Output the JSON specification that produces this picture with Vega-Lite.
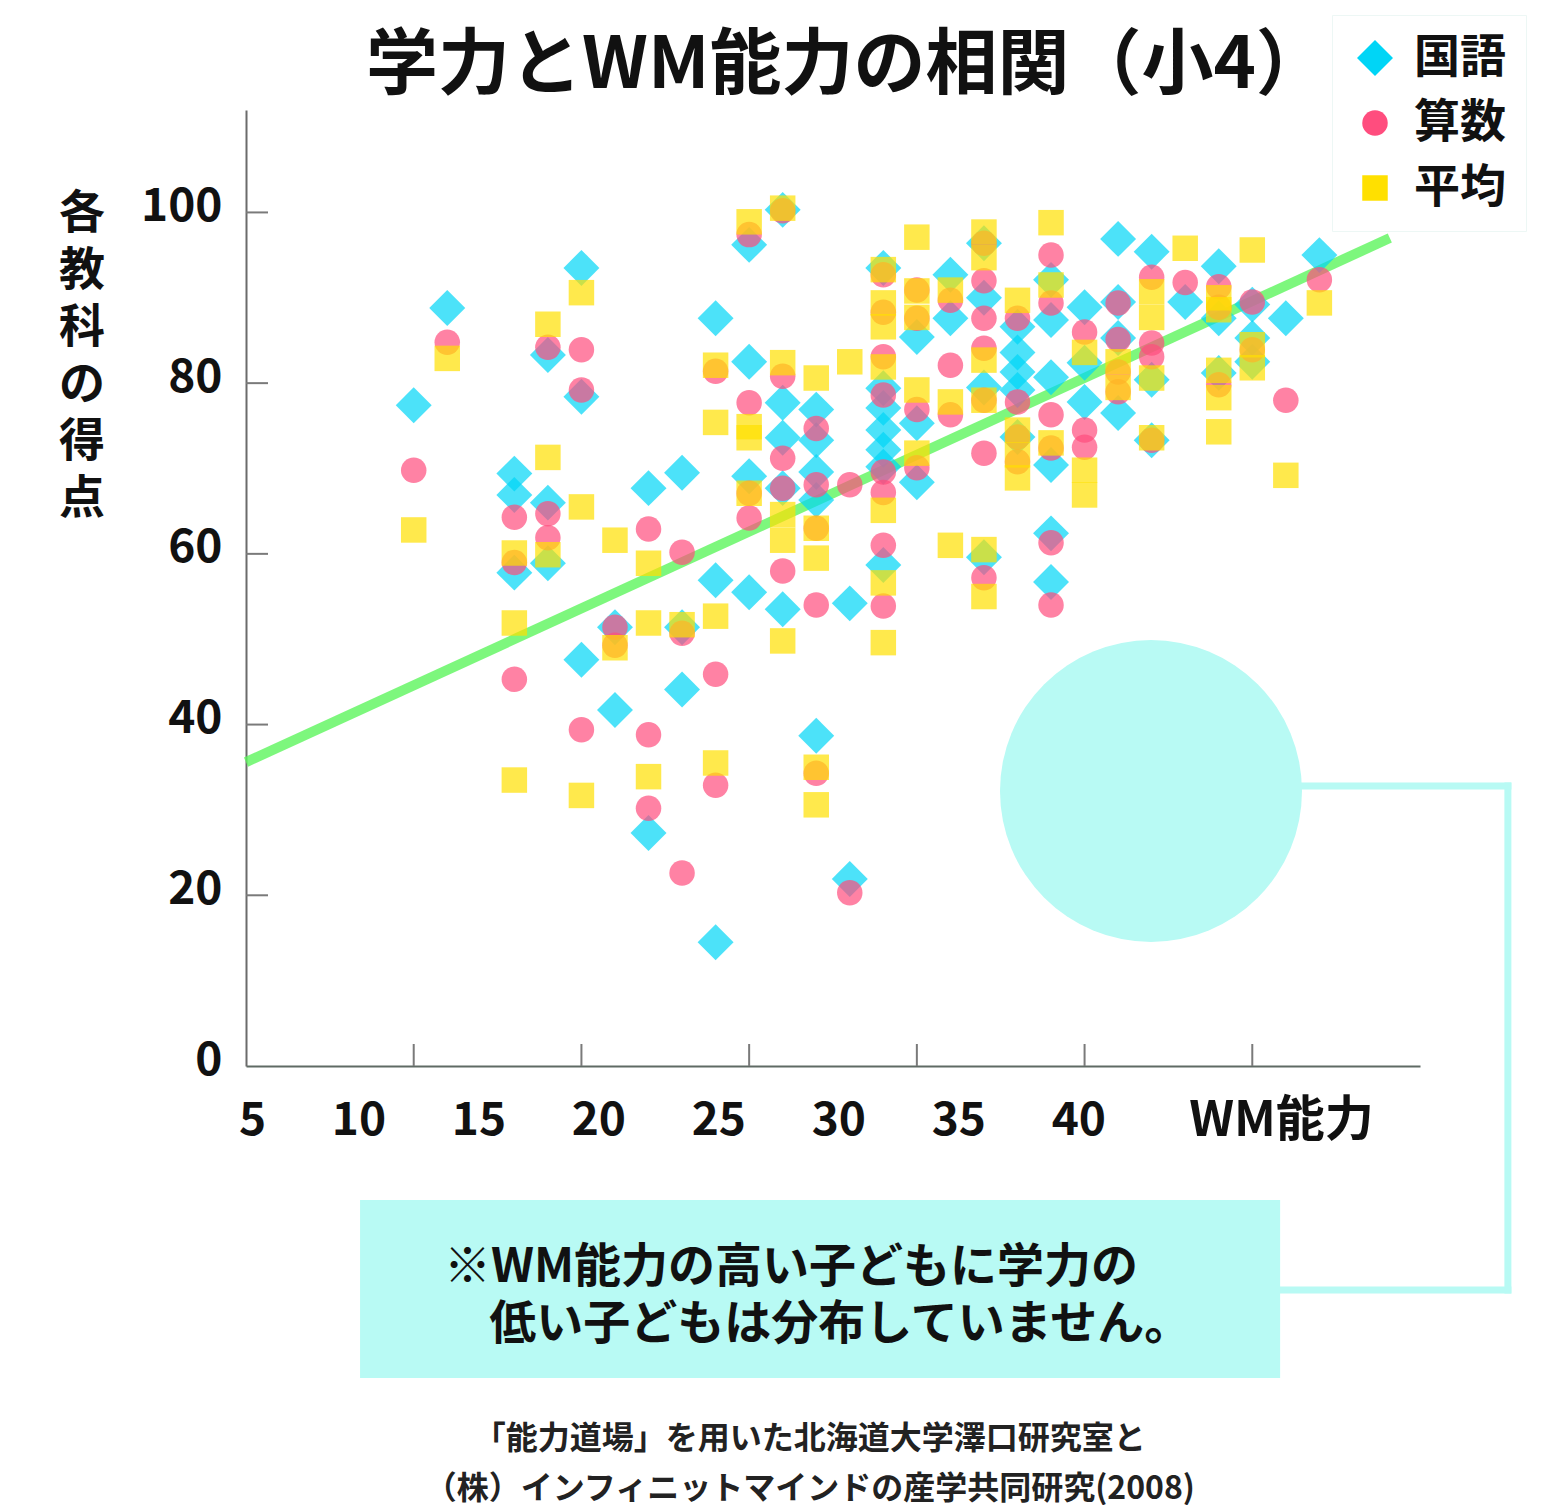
{
  "$schema": "https://vega.github.io/schema/vega-lite/v6.json",
  "width": 1174,
  "height": 956,
  "autosize": {"type": "none"},
  "padding": {"left": 246, "top": 110, "right": 125, "bottom": 439},
  "background": "white",
  "config": {
    "view": {"stroke": null},
    "font": "Noto Sans CJK JP"
  },
  "data": {"values": [{}]},
  "resolve": {"scale": {"x": "independent"}, "axis": {"x": "independent"}},
  "layer": [
    {
      "mark": {"type": "circle", "size": 91200, "color": "#B8FAF4", "opacity": 1},
      "encoding": {
        "x": {"datum": 26.98, "type": "quantitative", "scale": {"domain": [0, 35], "nice": false, "zero": false}, "axis": null},
        "y": {
          "datum": 32.22,
          "type": "quantitative",
          "scale": {"domain": [0, 112], "nice": false, "zero": false},
          "axis": {
            "orient": "left",
            "values": [0, 20, 40, 60, 80, 100],
            "grid": false,
            "ticks": false,
            "domainColor": "#6b6b6b",
            "domainWidth": 2,
            "labelPadding": 24,
            "labelOffset": -6,
            "labelFontSize": 46,
            "labelFontWeight": "bold",
            "labelColor": "#111111",
            "title": null
          }
        }
      }
    },
    {
      "mark": {"type": "rule", "color": "#B8FAF4", "strokeWidth": 7, "strokeCap": "square"},
      "encoding": {
        "x": {"datum": 27, "type": "quantitative", "scale": {"domain": [0, 35], "nice": false, "zero": false}, "axis": null},
        "x2": {"datum": 37.62},
        "y": {"datum": 32.8, "type": "quantitative"}
      }
    },
    {
      "mark": {"type": "rule", "color": "#B8FAF4", "strokeWidth": 7, "strokeCap": "square"},
      "encoding": {
        "x": {"datum": 37.62, "type": "quantitative", "scale": {"domain": [0, 35], "nice": false, "zero": false}, "axis": null},
        "y": {"datum": 32.8, "type": "quantitative"},
        "y2": {"datum": -26.24}
      }
    },
    {
      "mark": {"type": "rule", "color": "#B8FAF4", "strokeWidth": 7, "strokeCap": "square"},
      "encoding": {
        "x": {"datum": 30.83, "type": "quantitative", "scale": {"domain": [0, 35], "nice": false, "zero": false}, "axis": null},
        "x2": {"datum": 37.62},
        "y": {"datum": -26.24, "type": "quantitative"}
      }
    },
    {
      "mark": {"type": "rect", "color": "#B8FAF4"},
      "encoding": {
        "x": {"datum": 3.4, "type": "quantitative", "scale": {"domain": [0, 35], "nice": false, "zero": false}, "axis": null},
        "x2": {"datum": 30.83},
        "y": {"datum": -15.7, "type": "quantitative"},
        "y2": {"datum": -36.55}
      }
    },
    {
      "mark": {
        "type": "text",
        "text": "※WM能力の高い子どもに学力の",
        "align": "left",
        "baseline": "middle",
        "fontSize": 47,
        "fontWeight": "bold",
        "color": "#111111"
      },
      "encoding": {
        "x": {"datum": 5.9, "type": "quantitative", "scale": {"domain": [0, 35], "nice": false, "zero": false}, "axis": null},
        "y": {"datum": -23.72, "type": "quantitative"}
      }
    },
    {
      "mark": {
        "type": "text",
        "text": "低い子どもは分布していません。",
        "align": "left",
        "baseline": "middle",
        "fontSize": 47,
        "fontWeight": "bold",
        "color": "#111111"
      },
      "encoding": {
        "x": {"datum": 7.25, "type": "quantitative", "scale": {"domain": [0, 35], "nice": false, "zero": false}, "axis": null},
        "y": {"datum": -30.4, "type": "quantitative"}
      }
    },
    {
      "mark": {
        "type": "text",
        "text": "「能力道場」を用いた北海道大学澤口研究室と\n（株）インフィニットマインドの産学共同研究(2008)",
        "lineBreak": "\n",
        "lineHeight": 50,
        "align": "center",
        "baseline": "middle",
        "fontSize": 32,
        "fontWeight": "bold",
        "color": "#222222"
      },
      "encoding": {
        "x": {"datum": 16.81, "type": "quantitative", "scale": {"domain": [0, 35], "nice": false, "zero": false}, "axis": null},
        "y": {"datum": -43.7, "type": "quantitative"}
      }
    },
    {
      "mark": {
        "type": "text",
        "text": "学力とWM能力の相関（小4）",
        "align": "left",
        "baseline": "middle",
        "fontSize": 72,
        "fontWeight": "bold",
        "color": "#111111"
      },
      "encoding": {
        "x": {"datum": 3.58, "type": "quantitative", "scale": {"domain": [0, 35], "nice": false, "zero": false}, "axis": null},
        "y": {"datum": 117.2, "type": "quantitative"}
      }
    },
    {
      "mark": {
        "type": "text",
        "text": "各\n教\n科\nの\n得\n点",
        "lineBreak": "\n",
        "lineHeight": 57,
        "align": "center",
        "baseline": "middle",
        "fontSize": 46,
        "fontWeight": "bold",
        "color": "#111111"
      },
      "encoding": {
        "x": {"datum": -4.89, "type": "quantitative", "scale": {"domain": [0, 35], "nice": false, "zero": false}, "axis": null},
        "y": {"datum": 99.87, "type": "quantitative"}
      }
    },
    {
      "data": {"values": [{"wm": 0, "score": 35.6}, {"wm": 34.1, "score": 97.0}]},
      "mark": {"type": "line", "color": "#5CF55C", "strokeWidth": 10, "opacity": 0.8, "strokeCap": "butt"},
      "encoding": {
        "x": {"field": "wm", "type": "quantitative", "scale": {"domain": [0, 35], "nice": false, "zero": false}, "axis": null},
        "y": {"field": "score", "type": "quantitative"}
      }
    },
    {
      "data": {"values": [{"tick": 5}, {"tick": 10}, {"tick": 15}, {"tick": 20}, {"tick": 25}, {"tick": 30}]},
      "mark": {"type": "rule", "color": "#7a7a7a", "strokeWidth": 2},
      "encoding": {
        "x": {"field": "tick", "type": "quantitative", "scale": {"domain": [0, 35], "nice": false, "zero": false}, "axis": null},
        "y": {"datum": 0, "type": "quantitative"},
        "y2": {"datum": 2.58}
      }
    },
    {
      "data": {"values": [{"tick": 20}, {"tick": 40}, {"tick": 60}, {"tick": 80}, {"tick": 100}]},
      "mark": {"type": "rule", "color": "#7a7a7a", "strokeWidth": 2},
      "encoding": {
        "x": {"datum": 0, "type": "quantitative", "scale": {"domain": [0, 35], "nice": false, "zero": false}, "axis": null},
        "x2": {"datum": 0.656},
        "y": {"field": "tick", "type": "quantitative"}
      }
    },
    {
      "data": {
        "values": [
          {"wm": 5, "subject": "国語", "score": 77.4},
          {"wm": 6, "subject": "国語", "score": 88.8},
          {"wm": 8, "subject": "国語", "score": 69.4},
          {"wm": 8, "subject": "国語", "score": 66.9},
          {"wm": 8, "subject": "国語", "score": 57.8},
          {"wm": 9, "subject": "国語", "score": 83.3},
          {"wm": 9, "subject": "国語", "score": 66.0},
          {"wm": 9, "subject": "国語", "score": 58.9},
          {"wm": 10, "subject": "国語", "score": 93.5},
          {"wm": 10, "subject": "国語", "score": 78.4},
          {"wm": 10, "subject": "国語", "score": 47.6},
          {"wm": 11, "subject": "国語", "score": 51.4},
          {"wm": 11, "subject": "国語", "score": 41.7},
          {"wm": 12, "subject": "国語", "score": 67.7},
          {"wm": 12, "subject": "国語", "score": 27.3},
          {"wm": 13, "subject": "国語", "score": 69.5},
          {"wm": 13, "subject": "国語", "score": 51.4},
          {"wm": 13, "subject": "国語", "score": 44.1},
          {"wm": 14, "subject": "国語", "score": 87.6},
          {"wm": 14, "subject": "国語", "score": 56.9},
          {"wm": 14, "subject": "国語", "score": 14.5},
          {"wm": 15, "subject": "国語", "score": 96.2},
          {"wm": 15, "subject": "国語", "score": 82.5},
          {"wm": 15, "subject": "国語", "score": 69.1},
          {"wm": 15, "subject": "国語", "score": 55.5},
          {"wm": 16, "subject": "国語", "score": 100.3},
          {"wm": 16, "subject": "国語", "score": 77.7},
          {"wm": 16, "subject": "国語", "score": 73.6},
          {"wm": 16, "subject": "国語", "score": 67.7},
          {"wm": 16, "subject": "国語", "score": 53.5},
          {"wm": 17, "subject": "国語", "score": 76.9},
          {"wm": 17, "subject": "国語", "score": 73.3},
          {"wm": 17, "subject": "国語", "score": 69.6},
          {"wm": 17, "subject": "国語", "score": 66.3},
          {"wm": 17, "subject": "国語", "score": 38.7},
          {"wm": 18, "subject": "国語", "score": 54.2},
          {"wm": 18, "subject": "国語", "score": 21.9},
          {"wm": 19, "subject": "国語", "score": 93.5},
          {"wm": 19, "subject": "国語", "score": 79.4},
          {"wm": 19, "subject": "国語", "score": 77.1},
          {"wm": 19, "subject": "国語", "score": 74.5},
          {"wm": 19, "subject": "国語", "score": 72.2},
          {"wm": 19, "subject": "国語", "score": 70.2},
          {"wm": 19, "subject": "国語", "score": 58.7},
          {"wm": 20, "subject": "国語", "score": 85.4},
          {"wm": 20, "subject": "国語", "score": 75.3},
          {"wm": 20, "subject": "国語", "score": 68.4},
          {"wm": 21, "subject": "国語", "score": 92.7},
          {"wm": 21, "subject": "国語", "score": 87.6},
          {"wm": 22, "subject": "国語", "score": 96.4},
          {"wm": 22, "subject": "国語", "score": 90.0},
          {"wm": 22, "subject": "国語", "score": 79.5},
          {"wm": 22, "subject": "国語", "score": 59.6},
          {"wm": 23, "subject": "国語", "score": 86.6},
          {"wm": 23, "subject": "国語", "score": 83.6},
          {"wm": 23, "subject": "国語", "score": 81.3},
          {"wm": 23, "subject": "国語", "score": 79.2},
          {"wm": 23, "subject": "国語", "score": 73.7},
          {"wm": 24, "subject": "国語", "score": 92.1},
          {"wm": 24, "subject": "国語", "score": 87.4},
          {"wm": 24, "subject": "国語", "score": 80.7},
          {"wm": 24, "subject": "国語", "score": 70.4},
          {"wm": 24, "subject": "国語", "score": 62.4},
          {"wm": 24, "subject": "国語", "score": 56.7},
          {"wm": 25, "subject": "国語", "score": 88.9},
          {"wm": 25, "subject": "国語", "score": 82.4},
          {"wm": 25, "subject": "国語", "score": 77.8},
          {"wm": 26, "subject": "国語", "score": 96.9},
          {"wm": 26, "subject": "国語", "score": 89.5},
          {"wm": 26, "subject": "国語", "score": 85.3},
          {"wm": 26, "subject": "国語", "score": 76.5},
          {"wm": 27, "subject": "国語", "score": 95.4},
          {"wm": 27, "subject": "国語", "score": 80.4},
          {"wm": 27, "subject": "国語", "score": 73.3},
          {"wm": 28, "subject": "国語", "score": 89.5},
          {"wm": 29, "subject": "国語", "score": 93.7},
          {"wm": 29, "subject": "国語", "score": 87.6},
          {"wm": 29, "subject": "国語", "score": 81.2},
          {"wm": 30, "subject": "国語", "score": 89.2},
          {"wm": 30, "subject": "国語", "score": 85.3},
          {"wm": 30, "subject": "国語", "score": 82.5},
          {"wm": 31, "subject": "国語", "score": 87.6},
          {"wm": 32, "subject": "国語", "score": 95.0},
          {"wm": 5, "subject": "算数", "score": 69.8},
          {"wm": 6, "subject": "算数", "score": 84.8},
          {"wm": 8, "subject": "算数", "score": 64.3},
          {"wm": 8, "subject": "算数", "score": 59.0},
          {"wm": 8, "subject": "算数", "score": 45.3},
          {"wm": 9, "subject": "算数", "score": 84.2},
          {"wm": 9, "subject": "算数", "score": 64.7},
          {"wm": 9, "subject": "算数", "score": 61.9},
          {"wm": 10, "subject": "算数", "score": 83.9},
          {"wm": 10, "subject": "算数", "score": 79.2},
          {"wm": 10, "subject": "算数", "score": 39.4},
          {"wm": 11, "subject": "算数", "score": 51.4},
          {"wm": 11, "subject": "算数", "score": 49.3},
          {"wm": 12, "subject": "算数", "score": 62.9},
          {"wm": 12, "subject": "算数", "score": 38.8},
          {"wm": 12, "subject": "算数", "score": 30.2},
          {"wm": 13, "subject": "算数", "score": 60.2},
          {"wm": 13, "subject": "算数", "score": 50.7},
          {"wm": 13, "subject": "算数", "score": 22.6},
          {"wm": 14, "subject": "算数", "score": 81.4},
          {"wm": 14, "subject": "算数", "score": 45.9},
          {"wm": 14, "subject": "算数", "score": 32.9},
          {"wm": 15, "subject": "算数", "score": 97.4},
          {"wm": 15, "subject": "算数", "score": 77.7},
          {"wm": 15, "subject": "算数", "score": 67.1},
          {"wm": 15, "subject": "算数", "score": 64.2},
          {"wm": 16, "subject": "算数", "score": 100.2},
          {"wm": 16, "subject": "算数", "score": 80.8},
          {"wm": 16, "subject": "算数", "score": 71.2},
          {"wm": 16, "subject": "算数", "score": 67.7},
          {"wm": 16, "subject": "算数", "score": 58.0},
          {"wm": 17, "subject": "算数", "score": 74.7},
          {"wm": 17, "subject": "算数", "score": 68.1},
          {"wm": 17, "subject": "算数", "score": 63.0},
          {"wm": 17, "subject": "算数", "score": 54.0},
          {"wm": 17, "subject": "算数", "score": 34.3},
          {"wm": 18, "subject": "算数", "score": 68.1},
          {"wm": 18, "subject": "算数", "score": 20.3},
          {"wm": 19, "subject": "算数", "score": 92.7},
          {"wm": 19, "subject": "算数", "score": 88.3},
          {"wm": 19, "subject": "算数", "score": 83.1},
          {"wm": 19, "subject": "算数", "score": 78.6},
          {"wm": 19, "subject": "算数", "score": 69.6},
          {"wm": 19, "subject": "算数", "score": 67.2},
          {"wm": 19, "subject": "算数", "score": 61.0},
          {"wm": 19, "subject": "算数", "score": 53.9},
          {"wm": 20, "subject": "算数", "score": 90.9},
          {"wm": 20, "subject": "算数", "score": 87.6},
          {"wm": 20, "subject": "算数", "score": 76.9},
          {"wm": 20, "subject": "算数", "score": 70.1},
          {"wm": 21, "subject": "算数", "score": 89.7},
          {"wm": 21, "subject": "算数", "score": 82.1},
          {"wm": 21, "subject": "算数", "score": 76.3},
          {"wm": 22, "subject": "算数", "score": 96.4},
          {"wm": 22, "subject": "算数", "score": 92.0},
          {"wm": 22, "subject": "算数", "score": 87.6},
          {"wm": 22, "subject": "算数", "score": 84.1},
          {"wm": 22, "subject": "算数", "score": 78.0},
          {"wm": 22, "subject": "算数", "score": 71.8},
          {"wm": 22, "subject": "算数", "score": 57.2},
          {"wm": 23, "subject": "算数", "score": 87.6},
          {"wm": 23, "subject": "算数", "score": 77.8},
          {"wm": 23, "subject": "算数", "score": 73.7},
          {"wm": 23, "subject": "算数", "score": 70.8},
          {"wm": 24, "subject": "算数", "score": 95.0},
          {"wm": 24, "subject": "算数", "score": 89.4},
          {"wm": 24, "subject": "算数", "score": 76.3},
          {"wm": 24, "subject": "算数", "score": 72.4},
          {"wm": 24, "subject": "算数", "score": 61.3},
          {"wm": 24, "subject": "算数", "score": 54.0},
          {"wm": 25, "subject": "算数", "score": 86.0},
          {"wm": 25, "subject": "算数", "score": 74.5},
          {"wm": 25, "subject": "算数", "score": 72.5},
          {"wm": 26, "subject": "算数", "score": 89.4},
          {"wm": 26, "subject": "算数", "score": 85.1},
          {"wm": 26, "subject": "算数", "score": 81.3},
          {"wm": 26, "subject": "算数", "score": 79.0},
          {"wm": 27, "subject": "算数", "score": 92.4},
          {"wm": 27, "subject": "算数", "score": 84.7},
          {"wm": 27, "subject": "算数", "score": 83.1},
          {"wm": 27, "subject": "算数", "score": 73.3},
          {"wm": 28, "subject": "算数", "score": 91.8},
          {"wm": 29, "subject": "算数", "score": 91.3},
          {"wm": 29, "subject": "算数", "score": 88.9},
          {"wm": 29, "subject": "算数", "score": 79.8},
          {"wm": 30, "subject": "算数", "score": 89.5},
          {"wm": 30, "subject": "算数", "score": 83.9},
          {"wm": 31, "subject": "算数", "score": 78.0},
          {"wm": 32, "subject": "算数", "score": 92.1},
          {"wm": 5, "subject": "平均", "score": 62.8},
          {"wm": 6, "subject": "平均", "score": 82.9},
          {"wm": 8, "subject": "平均", "score": 60.1},
          {"wm": 8, "subject": "平均", "score": 51.9},
          {"wm": 8, "subject": "平均", "score": 33.5},
          {"wm": 9, "subject": "平均", "score": 86.9},
          {"wm": 9, "subject": "平均", "score": 71.3},
          {"wm": 9, "subject": "平均", "score": 59.9},
          {"wm": 10, "subject": "平均", "score": 90.6},
          {"wm": 10, "subject": "平均", "score": 65.5},
          {"wm": 10, "subject": "平均", "score": 31.7},
          {"wm": 11, "subject": "平均", "score": 61.6},
          {"wm": 11, "subject": "平均", "score": 49.0},
          {"wm": 12, "subject": "平均", "score": 58.9},
          {"wm": 12, "subject": "平均", "score": 51.9},
          {"wm": 12, "subject": "平均", "score": 33.9},
          {"wm": 13, "subject": "平均", "score": 51.7},
          {"wm": 14, "subject": "平均", "score": 82.1},
          {"wm": 14, "subject": "平均", "score": 75.4},
          {"wm": 14, "subject": "平均", "score": 52.7},
          {"wm": 14, "subject": "平均", "score": 35.5},
          {"wm": 15, "subject": "平均", "score": 98.9},
          {"wm": 15, "subject": "平均", "score": 74.9},
          {"wm": 15, "subject": "平均", "score": 73.6},
          {"wm": 15, "subject": "平均", "score": 67.1},
          {"wm": 16, "subject": "平均", "score": 100.5},
          {"wm": 16, "subject": "平均", "score": 82.4},
          {"wm": 16, "subject": "平均", "score": 64.6},
          {"wm": 16, "subject": "平均", "score": 61.6},
          {"wm": 16, "subject": "平均", "score": 49.8},
          {"wm": 17, "subject": "平均", "score": 80.6},
          {"wm": 17, "subject": "平均", "score": 63.0},
          {"wm": 17, "subject": "平均", "score": 59.5},
          {"wm": 17, "subject": "平均", "score": 35.0},
          {"wm": 17, "subject": "平均", "score": 30.6},
          {"wm": 18, "subject": "平均", "score": 82.5},
          {"wm": 19, "subject": "平均", "score": 93.3},
          {"wm": 19, "subject": "平均", "score": 89.4},
          {"wm": 19, "subject": "平均", "score": 86.6},
          {"wm": 19, "subject": "平均", "score": 81.9},
          {"wm": 19, "subject": "平均", "score": 65.1},
          {"wm": 19, "subject": "平均", "score": 56.6},
          {"wm": 19, "subject": "平均", "score": 49.6},
          {"wm": 20, "subject": "平均", "score": 97.1},
          {"wm": 20, "subject": "平均", "score": 90.8},
          {"wm": 20, "subject": "平均", "score": 87.7},
          {"wm": 20, "subject": "平均", "score": 79.2},
          {"wm": 20, "subject": "平均", "score": 71.8},
          {"wm": 21, "subject": "平均", "score": 90.9},
          {"wm": 21, "subject": "平均", "score": 77.8},
          {"wm": 21, "subject": "平均", "score": 61.0},
          {"wm": 22, "subject": "平均", "score": 97.7},
          {"wm": 22, "subject": "平均", "score": 94.7},
          {"wm": 22, "subject": "平均", "score": 82.7},
          {"wm": 22, "subject": "平均", "score": 78.0},
          {"wm": 22, "subject": "平均", "score": 60.5},
          {"wm": 22, "subject": "平均", "score": 55.0},
          {"wm": 23, "subject": "平均", "score": 89.7},
          {"wm": 23, "subject": "平均", "score": 74.5},
          {"wm": 23, "subject": "平均", "score": 71.6},
          {"wm": 23, "subject": "平均", "score": 68.9},
          {"wm": 24, "subject": "平均", "score": 98.8},
          {"wm": 24, "subject": "平均", "score": 91.5},
          {"wm": 24, "subject": "平均", "score": 73.0},
          {"wm": 25, "subject": "平均", "score": 83.6},
          {"wm": 25, "subject": "平均", "score": 69.8},
          {"wm": 25, "subject": "平均", "score": 66.9},
          {"wm": 26, "subject": "平均", "score": 82.5},
          {"wm": 26, "subject": "平均", "score": 79.5},
          {"wm": 27, "subject": "平均", "score": 90.7},
          {"wm": 27, "subject": "平均", "score": 87.7},
          {"wm": 27, "subject": "平均", "score": 80.6},
          {"wm": 27, "subject": "平均", "score": 73.6},
          {"wm": 28, "subject": "平均", "score": 95.8},
          {"wm": 29, "subject": "平均", "score": 90.0},
          {"wm": 29, "subject": "平均", "score": 88.6},
          {"wm": 29, "subject": "平均", "score": 81.5},
          {"wm": 29, "subject": "平均", "score": 78.3},
          {"wm": 29, "subject": "平均", "score": 74.3},
          {"wm": 30, "subject": "平均", "score": 95.6},
          {"wm": 30, "subject": "平均", "score": 84.5},
          {"wm": 30, "subject": "平均", "score": 81.8},
          {"wm": 31, "subject": "平均", "score": 69.2},
          {"wm": 32, "subject": "平均", "score": 89.4}
        ]
      },
      "mark": {"type": "point", "filled": true, "opacity": 0.7, "size": 650, "strokeWidth": 0},
      "encoding": {
        "x": {
          "field": "wm",
          "type": "quantitative",
          "scale": {"domain": [0, 35], "nice": false, "zero": false},
          "axis": {
            "orient": "bottom",
            "values": [5, 10, 15, 20, 25, 30],
            "labels": false,
            "ticks": false,
            "grid": false,
            "domainColor": "#5f6a64",
            "domainWidth": 2,
            "title": "WM能力",
            "titleFontSize": 49,
            "titleFontWeight": "bold",
            "titleColor": "#111111",
            "titleX": 1035,
            "titleY": 54,
            "titleAlign": "center",
            "titleBaseline": "middle",
            "titleAngle": 0
          }
        },
        "y": {"field": "score", "type": "quantitative"},
        "color": {
          "field": "subject",
          "type": "nominal",
          "scale": {"domain": ["国語", "算数", "平均"], "range": ["#00D5F6", "#FF4D7E", "#FFE000"]},
          "legend": {
            "title": null,
            "orient": "none",
            "legendX": 1086,
            "legendY": -95,
            "padding": 20,
            "fillColor": "white",
            "strokeColor": "#edf7f5",
            "symbolSize": 650,
            "symbolOpacity": 1,
            "symbolStrokeWidth": 0,
            "labelFontSize": 46,
            "labelFontWeight": "bold",
            "labelColor": "#111111",
            "labelOffset": 16,
            "rowPadding": 19,
            "encode": {"symbols": {"update": {"opacity": {"value": 1}}}}
          }
        },
        "shape": {
          "field": "subject",
          "type": "nominal",
          "scale": {"domain": ["国語", "算数", "平均"], "range": ["M0,-1.41L1.41,0L0,1.41L-1.41,0Z", "circle", "square"]}
        }
      }
    },
    {
      "data": {"values": [{"label": 5}, {"label": 10}, {"label": 15}, {"label": 20}, {"label": 25}, {"label": 30}, {"label": 35}, {"label": 40}]},
      "mark": {"type": "text", "align": "right", "baseline": "middle", "fontSize": 46, "fontWeight": "bold", "color": "#111111"},
      "encoding": {
        "x": {"field": "label", "type": "quantitative", "scale": {"domain": [4.165, 53.085], "nice": false, "zero": false}, "axis": null},
        "y": {"datum": -6.5, "type": "quantitative"},
        "text": {"field": "label", "type": "quantitative"}
      }
    }
  ]
}
